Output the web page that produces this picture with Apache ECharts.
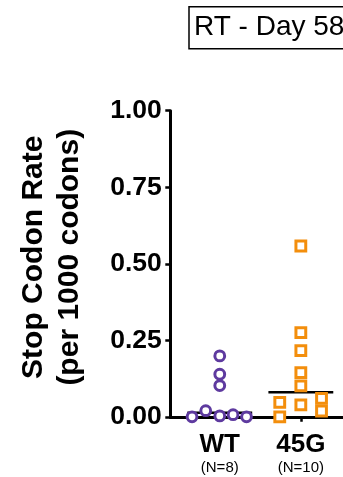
<!DOCTYPE html>
<html>
<head>
<meta charset="utf-8">
<script src="https://cdn.jsdelivr.net/npm/echarts@6/dist/echarts.min.js"></script>
<style>
html,body{margin:0;padding:0;background:#fff;}
#chart{width:343px;height:477px;}
</style>
</head>
<body>
<div id="chart"></div>
<script>
// ---- data ----
var categories = ['WT', '45G'];
var counts = [8, 10];
var yTicks = [0, 0.25, 0.5, 0.75, 1.0];
var wtValues  = [0.199, 0.139, 0.102, 0.000, 0.020, 0.003, 0.007, 0.000];
var wtJitter  = [0, 0, 0, -0.342, -0.173, 0, 0.164, 0.33];
var g45Values = [0.558, 0.275, 0.216, 0.144, 0.101, 0.039, 0.047, 0.000, 0.060, 0.019];
var g45Jitter = [0, 0, 0, 0, 0, 0, -0.26, -0.26, 0.255, 0.255];
var titleText = 'RT - Day 58';
var yName = 'Stop Codon Rate\n(per 1000 codons)';

// ---- helpers ----
function median(a) {
  var s = a.slice().sort(function (x, y) { return x - y; });
  var n = s.length;
  return n % 2 ? s[(n - 1) / 2] : (s[n / 2 - 1] + s[n / 2]) / 2;
}
function pts(vals, jit, pos) {
  return vals.map(function (v, i) { return [pos + jit[i], v]; });
}
var FONT = '"Liberation Sans", Arial, sans-serif';
var PURPLE = '#5e3a9f';
var ORANGE = '#f38e0c';
var halfW = 0.4;
var wtMed = median(wtValues), gMed = median(g45Values);

var chart = echarts.init(document.getElementById('chart'), null, {renderer: 'canvas'});
chart.setOption({
  animation: false,
  backgroundColor: '#fff',
  title: {
    text: titleText,
    left: 189, top: 6.7,
    padding: [6, 10, 6, 5],
    borderColor: '#000', borderWidth: 1.5,
    textStyle: {fontFamily: FONT, fontSize: 28, fontWeight: 'normal', color: '#000', lineHeight: 30}
  },
  grid: {left: 170.3, right: 0, top: 110.7, bottom: 60.2, containLabel: false},
  xAxis: {
    type: 'value', min: 0.39, max: 2.52,
    splitLine: {show: false},
    axisLine: {show: true, onZero: false, lineStyle: {color: '#000', width: 3}},
    axisTick: {show: true, customValues: [1, 2], length: 5, lineStyle: {color: '#000', width: 2.5}},
    axisLabel: {
      customValues: [1, 2], margin: 14,
      formatter: function (v) {
        var i = Math.round(v) - 1;
        return '{a|' + categories[i] + '}\n{b|(N=' + counts[i] + ')}';
      },
      rich: {
        a: {fontFamily: FONT, fontSize: 26, fontWeight: 'bold', color: '#000', lineHeight: 28},
        b: {fontFamily: FONT, fontSize: 15, color: '#000', lineHeight: 19}
      }
    }
  },
  yAxis: {
    type: 'value', min: 0, max: 1, interval: 0.25,
    splitLine: {show: false},
    axisLine: {show: true, lineStyle: {color: '#000', width: 3}},
    axisTick: {show: true, length: 5, lineStyle: {color: '#000', width: 2.5}},
    axisLabel: {
      margin: 8.5, fontFamily: FONT, fontSize: 26.5, fontWeight: 'bold', color: '#000',
      formatter: function (v) { return v.toFixed(2); }
    },
    name: yName,
    nameLocation: 'middle',
    nameGap: 83,
    nameTextStyle: {fontFamily: FONT, fontSize: 30, fontWeight: 'bold', color: '#000', lineHeight: 35.6, padding: [0, 0, 0, 13]}
  },
  series: [
    {type: 'line', data: [[1 - halfW, wtMed], [1 + halfW, wtMed]], symbol: 'none', z: 3,
     lineStyle: {color: '#000', width: 2.5}, silent: true},
    {type: 'line', data: [[2 - halfW, gMed], [2 + halfW, gMed]], symbol: 'none', z: 3,
     lineStyle: {color: '#000', width: 2.5}, silent: true},
    {type: 'scatter', data: pts(wtValues, wtJitter, 1), symbol: 'circle', symbolSize: 9.8, z: 5,
     itemStyle: {color: '#fff', borderColor: PURPLE, borderWidth: 3, opacity: 1}},
    {type: 'scatter', data: pts(g45Values, g45Jitter, 2), symbol: 'rect', symbolSize: 9.8, z: 5,
     itemStyle: {color: '#fff', borderColor: ORANGE, borderWidth: 3, opacity: 1}}
  ]
});
</script>
</body>
</html>
